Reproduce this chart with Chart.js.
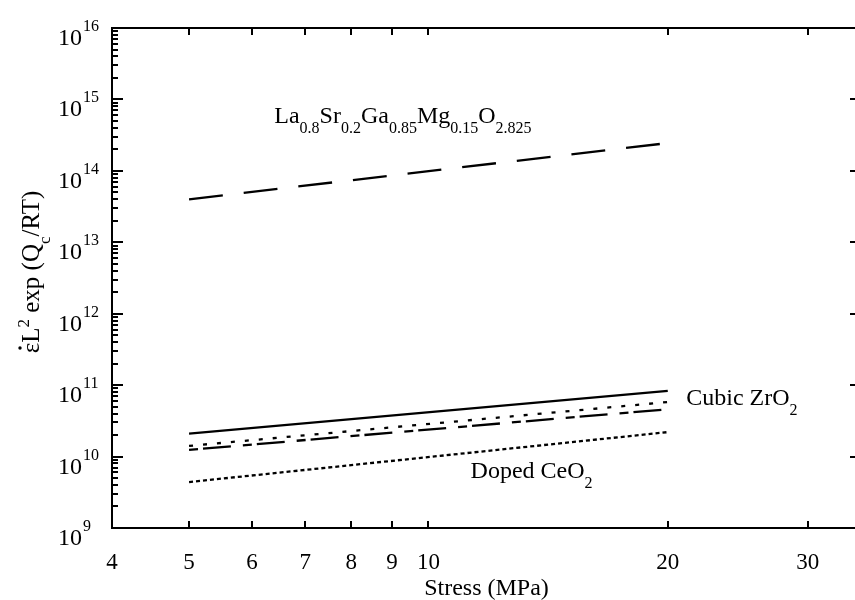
<!DOCTYPE html>
<html>
<head>
<meta charset="utf-8">
<script src="https://cdn.jsdelivr.net/npm/chart.js@4.4.0/dist/chart.umd.min.js"></script>
<style>
  body { margin: 0; overflow: hidden; background: #fff; }
  canvas { display: block; }
</style>
</head>
<body>
<canvas id="chartStress" width="865" height="600"></canvas>
<script>
// values
const stress = [5, 20];
const lsgm = [4.0e13, 2.45e14];
const zrSolid = [2.1e10, 8.3e10];
const zrDotted = [1.41e10, 5.8e10];
const zrDashed = [1.24e10, 4.6e10];
const ceria = [4.4e9, 2.2e10];

const xTicks = [4, 5, 6, 7, 8, 9, 10, 20, 30];
const yExponents = [9, 10, 11, 12, 13, 14, 15, 16];

const serif = '"Liberation Serif", "Times New Roman", serif';

function pts(ys) {
  return stress.map((x, i) => ({ x: x, y: ys[i] }));
}

function line(ys, dash) {
  return {
    data: pts(ys),
    borderColor: "#000",
    borderWidth: 2.3,
    borderDash: dash,
    pointRadius: 0,
    fill: false,
    tension: 0,
  };
}

// text with sub/superscripts, parts = [[text, "n" | "sub" | "sup"], ...]
function drawRich(ctx, x, y, parts, size) {
  let cx = x;
  ctx.textBaseline = "alphabetic";
  ctx.textAlign = "left";
  parts.forEach(([t, kind]) => {
    const s = kind === "n" ? size : Math.round(size * 0.66);
    ctx.font = s + "px " + serif;
    let dy = 0;
    if (kind === "sub") dy = size * 0.42;
    if (kind === "sup") dy = -size * 0.42;
    ctx.fillText(t, cx, y + dy);
    cx += ctx.measureText(t).width;
  });
  return cx - x;
}

function richWidth(ctx, parts, size) {
  let w = 0;
  parts.forEach(([t, kind]) => {
    const s = kind === "n" ? size : Math.round(size * 0.66);
    ctx.font = s + "px " + serif;
    w += ctx.measureText(t).width;
  });
  return w;
}

const frame = {
  id: "frame",
  afterDraw(chart) {
    const ctx = chart.ctx;
    const xs = chart.scales.x;
    const ys = chart.scales.y;
    const a = chart.chartArea;
    ctx.save();
    ctx.strokeStyle = "#000";
    ctx.fillStyle = "#000";
    ctx.lineWidth = 2;

    // box
    ctx.beginPath();
    ctx.moveTo(a.left, a.top);
    ctx.lineTo(a.right, a.top);
    ctx.moveTo(a.left, a.top - 1);
    ctx.lineTo(a.left, a.bottom + 1);
    ctx.moveTo(a.left, a.bottom);
    ctx.lineTo(a.right, a.bottom);
    ctx.moveTo(a.right, a.top);
    ctx.lineTo(a.right, a.bottom);
    ctx.stroke();

    // x ticks top and bottom
    ctx.beginPath();
    xTicks.forEach((v) => {
      const px = Math.round(xs.getPixelForValue(v));
      ctx.moveTo(px, a.bottom);
      ctx.lineTo(px, a.bottom - 7);
      ctx.moveTo(px, a.top);
      ctx.lineTo(px, a.top + 7);
    });
    ctx.stroke();

    // y ticks: left major + minor, right major
    ctx.beginPath();
    yExponents.forEach((e) => {
      const py = Math.round(ys.getPixelForValue(Math.pow(10, e)));
      ctx.moveTo(a.left, py);
      ctx.lineTo(a.left + 11, py);
      ctx.moveTo(a.right, py);
      ctx.lineTo(a.right - 11, py);
      if (e < 16) {
        for (let m = 2; m <= 9; m++) {
          const pm = Math.round(ys.getPixelForValue(m * Math.pow(10, e)));
          ctx.moveTo(a.left, pm);
          ctx.lineTo(a.left + 6, pm);
        }
      }
    });
    ctx.stroke();

    // y labels 10^n
    yExponents.forEach((e) => {
      const py = ys.getPixelForValue(Math.pow(10, e));
      ctx.font = "24px " + serif;
      ctx.textAlign = "right";
      ctx.textBaseline = "alphabetic";
      ctx.fillText("10", 82, py + 17);
      ctx.font = "16px " + serif;
      ctx.textAlign = "left";
      ctx.fillText(String(e), 83, py + 3);
    });

    // y title, rotated
    const titleParts = [["\u03B5L", "n"], ["2", "sup"], [" exp (Q", "n"], ["c", "sub"], ["/RT)", "n"]];
    const tw = richWidth(ctx, titleParts, 25);
    ctx.save();
    ctx.translate(39, 272);
    ctx.rotate(-Math.PI / 2);
    const x0 = -tw / 2;
    drawRich(ctx, x0, 0, titleParts, 25);
    // dot above epsilon
    ctx.font = "25px " + serif;
    const ew = ctx.measureText("\u03B5").width;
    ctx.beginPath();
    ctx.arc(x0 + ew / 2, -19, 1.7, 0, Math.PI * 2);
    ctx.fill();
    ctx.restore();

    // curve labels
    const lab = (xv, yv, parts) => {
      drawRich(ctx, xs.getPixelForValue(xv), ys.getPixelForValue(yv), parts, 24);
    };
    lab(6.4, 4.7e14, [["La", "n"], ["0.8", "sub"], ["Sr", "n"], ["0.2", "sub"], ["Ga", "n"], ["0.85", "sub"], ["Mg", "n"], ["0.15", "sub"], ["O", "n"], ["2.825", "sub"]]);
    lab(21.1, 5.3e10, [["Cubic ZrO", "n"], ["2", "sub"]]);
    lab(11.3, 5.0e9, [["Doped CeO", "n"], ["2", "sub"]]);

    ctx.restore();
  },
};

const configStress = {
  type: "line",
  data: {
    datasets: [
      line(lsgm, [34, 21]),
      line(zrSolid, []),
      line(zrDotted, [4, 10]),
      line(zrDashed, [9, 5, 28, 12]),
      line(ceria, [4, 3]),
    ],
  },
  options: {
    responsive: false,
    animation: false,
    layout: { padding: { top: 28, right: 4, left: 0, bottom: 0 } },
    plugins: { legend: { display: false }, tooltip: { enabled: false } },
    scales: {
      x: {
        type: "logarithmic",
        min: 4,
        max: 35,
        grid: { display: false, drawTicks: false },
        border: { display: false },
        afterBuildTicks: (s) => { s.ticks = xTicks.map((v) => ({ value: v })); },
        afterFit: (s) => { s.height = 72; },
        ticks: {
          color: "#000",
          padding: 21,
          maxRotation: 0,
          autoSkip: false,
          font: { family: serif, size: 23 },
          callback: (v) => String(v),
        },
        title: {
          display: true,
          text: "Stress (MPa)",
          color: "#000",
          padding: { top: 0, bottom: -3 },
          font: { family: serif, size: 24 },
        },
      },
      y: {
        type: "logarithmic",
        min: 1e9,
        max: 1e16,
        grid: { display: false, drawTicks: false },
        border: { display: false },
        ticks: { display: false },
        afterFit: (s) => { s.width = 112; },
      },
    },
  },
  plugins: [frame],
};

var chartStress = new Chart(document.getElementById("chartStress"), configStress);
</script>
</body>
</html>
